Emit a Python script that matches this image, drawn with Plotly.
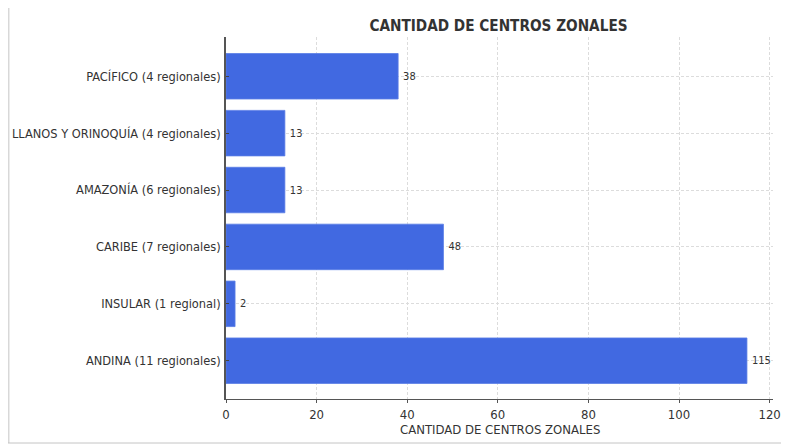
import plotly.graph_objects as go

categories = ["ANDINA (11 regionales)", "INSULAR (1 regional)", "CARIBE (7 regionales)",
              "AMAZONÍA (6 regionales)", "LLANOS Y ORINOQUÍA (4 regionales)", "PACÍFICO (4 regionales)"]
values = [115, 2, 48, 13, 13, 38]
x_ticks = [0, 20, 40, 60, 80, 100, 120]
x_title = "CANTIDAD DE CENTROS ZONALES"
chart_title = "CANTIDAD DE CENTROS ZONALES"

# page body has 8px margin: figure sits at screen offset (8, 8)
OFF = 8
W, H = 781, 436
ML, MR, MT, MB = 218, 16, 29, 45
pw, ph = W - ML - MR, H - MT - MB
FONT = "DejaVu Sans Condensed, DejaVu Sans"

def px(sx):
    return (sx - OFF - ML) / pw

def py(sy):
    return (H - MB - (sy - OFF)) / ph

fig = go.Figure(go.Bar(
    y=categories, x=values, orientation="h",
    marker=dict(color="#4169E1", line=dict(color="#5a7ee6", width=0.8)),
    width=0.8,
    text=["\u2009" + str(v) for v in values], textposition="outside",
    textfont=dict(size=11, color="#333333", family=FONT),
    cliponaxis=False,
))

shapes = [
    dict(type="line", xref="paper", yref="paper", x0=px(8.5), x1=px(8.5), y0=py(443), y1=py(8),
         line=dict(color="#d8d8d8", width=1)),
    dict(type="line", xref="paper", yref="paper", x0=px(9.5), x1=px(9.5), y0=py(443), y1=py(8),
         line=dict(color="#ececec", width=1)),
    dict(type="line", xref="paper", yref="paper", x0=px(787), x1=px(787), y0=py(443), y1=py(8),
         line=dict(color="#d0d0d0", width=1)),
    dict(type="line", xref="paper", yref="paper", x0=px(8), x1=px(787), y0=py(443), y1=py(443),
         line=dict(color="#c4c4c4", width=1)),
]

fig.update_layout(
    width=W, height=H,
    margin=dict(l=ML, r=MR, t=MT, b=MB, pad=0, autoexpand=False),
    paper_bgcolor="white", plot_bgcolor="white",
    font=dict(family=FONT, color="#333333", size=12.7),
    title=dict(text="<b>" + chart_title + "</b>", xref="paper", x=px(498.5), xanchor="center",
               y=1 - (26 - OFF) / H, yanchor="middle", font=dict(size=15.2, color="#333333")),
    showlegend=False,
    shapes=shapes,
    bargap=0.2,
    annotations=[dict(text=x_title, xref="paper", yref="paper", x=px(499.5), y=py(429.5),
                      xanchor="center", yanchor="middle", showarrow=False,
                      font=dict(size=13, color="#333333"))],
)
fig.update_xaxes(
    range=[0, 120.75], tickvals=x_ticks, ticktext=[str(t) for t in x_ticks],
    showgrid=True, gridcolor="#dcdcdc", griddash="3px,2px", gridwidth=0.8,
    showline=True, linecolor="#555555", linewidth=1.2,
    ticks="outside", ticklen=3, tickcolor="#555555",
    tickfont=dict(size=13, color="#333333"),
    zeroline=False, layer="above traces", automargin=False,
)
fig.update_yaxes(
    categoryorder="array", categoryarray=categories,
    range=[-0.673, 5.69],
    showgrid=True, gridcolor="#dcdcdc", griddash="3px,2px", gridwidth=0.8,
    showline=True, linecolor="#555555", linewidth=1.5,
    ticks="inside", ticklen=3, tickcolor="#444444",
    tickfont=dict(size=12.7, color="#333333"),
    zeroline=False, layer="above traces", ticklabelstandoff=1, automargin=False,
)

fig.write_html("out.html")
